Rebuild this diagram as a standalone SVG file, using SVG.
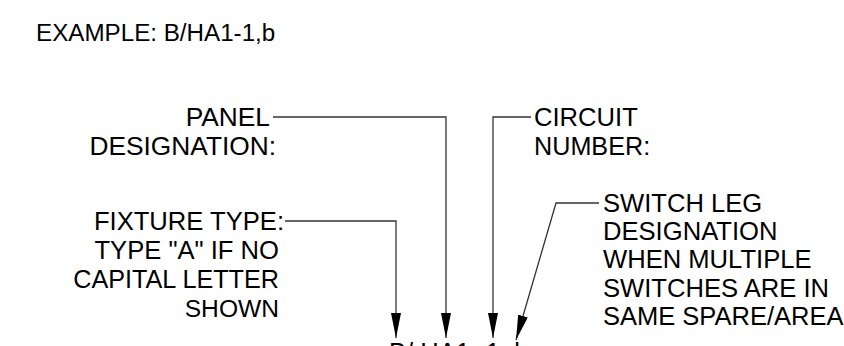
<svg xmlns="http://www.w3.org/2000/svg" width="844" height="346" viewBox="0 0 844 346">
<style>
text{font-family:"Liberation Sans",Arial,sans-serif;font-size:25.6px;fill:#000}
#title text{font-size:24.2px}
#panel text{font-size:26.3px}
.e{text-anchor:end}
.c{fill:none;stroke:#333;stroke-width:1.3}
</style>
<defs><marker id="a" markerUnits="userSpaceOnUse" markerWidth="26" markerHeight="12" refX="25" refY="5" orient="auto"><path d="M0 0L25 5L0 10Z" fill="#000"/></marker></defs>
<rect width="844" height="346" fill="#fff"/>
<g id="connectors">
<path class="c" marker-end="url(#a)" d="M273 117H446V338"/>
<path class="c" marker-end="url(#a)" d="M531 117H493V338"/>
<path class="c" marker-end="url(#a)" d="M285 221H396V338"/>
<path class="c" marker-end="url(#a)" d="M599 203H556L516 340"/>
</g>
<g id="title"><text x="36" y="41">EXAMPLE: B/HA1-1,b</text></g>
<g id="panel"><text class="e" x="270" y="126">PANEL</text><text class="e" x="276" y="155">DESIGNATION:</text></g>
<g id="circuit"><text x="534" y="126">CIRCUIT</text><text x="534" y="155" font-size="25.2" style="font-size:25.2px">NUMBER:</text></g>
<g id="fixture"><text class="e" x="284" y="230">FIXTURE TYPE:</text><text class="e" x="279" y="259">TYPE "A" IF NO</text><text class="e" x="279" y="288" style="font-size:25.2px">CAPITAL LETTER</text><text class="e" x="279" y="317" style="font-size:24.6px">SHOWN</text></g>
<g id="switch"><text x="603" y="212">SWITCH LEG</text><text x="603" y="240">DESIGNATION</text><text x="603" y="268">WHEN MULTIPLE</text><text x="603" y="297">SWITCHES ARE IN</text><text x="603" y="325" style="font-size:25.5px">SAME SPARE/AREA</text></g>
<g id="code"><text x="389" y="361">B/ HA1- 1, b</text></g>
</svg>
